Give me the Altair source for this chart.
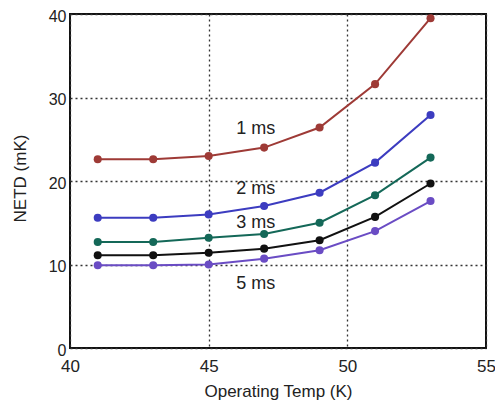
import altair as alt
import pandas as pd

temps = [41, 43, 45, 47, 49, 51, 53]
ms1 = [22.6, 22.6, 23.0, 24.0, 26.4, 31.6, 39.5]
ms2 = [15.6, 15.6, 16.0, 17.0, 18.6, 22.2, 27.9]
ms3 = [12.7, 12.7, 13.2, 13.65, 15.0, 18.3, 22.8]
ms4 = [11.1, 11.1, 11.4, 11.9, 12.9, 15.7, 19.7]
ms5 = [9.9, 9.9, 10.0, 10.7, 11.7, 14.0, 17.6]

series_names = ["1 ms", "2 ms", "3 ms", "4 ms", "5 ms"]
series_vals = [ms1, ms2, ms3, ms4, ms5]
colors = ["#9e3a36", "#3c3cc0", "#146858", "#111111", "#6a4cc4"]

label_text = ["1 ms", "2 ms", "3 ms", "5 ms"]
label_x = [46.7, 46.7, 46.7, 46.7]
label_y = [26.2, 19.0, 15.0, 7.7]

rows = []
for name, vals in zip(series_names, series_vals):
    for t, v in zip(temps, vals):
        rows.append({"temp": t, "netd": v, "series": name})
df = pd.DataFrame(rows)
labels_df = pd.DataFrame({"x": label_x, "y": label_y, "text": label_text})

FONT = "Liberation Sans"

x_enc = alt.X("temp:Q", scale=alt.Scale(domain=[40, 55], nice=False, zero=False),
              axis=alt.Axis(values=[40, 45, 50, 55], title="Operating Temp (K)",
                            ticks=False, labelPadding=10, labelFontSize=17,
                            labelColor="#222", titleFontSize=17, titleFontWeight="normal",
                            titleColor="#222", titleY=43, titleBaseline="middle",
                            grid=True, gridDash=[2, 3], gridColor="#333",
                            gridWidth=1.3, domain=False, labelFlush=False))
y_enc = alt.Y("netd:Q", scale=alt.Scale(domain=[0, 40], nice=False),
              axis=alt.Axis(values=[0, 10, 20, 30, 40], title="NETD (mK)",
                            ticks=False, labelPadding=4, labelFontSize=16, labelOffset=2,
                            labelColor="#222", titleFontSize=17, titleFontWeight="normal",
                            titleColor="#222", titleAngle=270, titleX=-50, titleY=164,
                            titleBaseline="middle", grid=True, gridDash=[2, 3],
                            gridColor="#333", gridWidth=1.3, domain=False))

lines = alt.Chart(df).mark_line(strokeWidth=2, point=alt.OverlayMarkDef(filled=True, size=65, opacity=1)).encode(
    x=x_enc,
    y=y_enc,
    color=alt.Color("series:N", scale=alt.Scale(domain=series_names, range=colors), legend=None),
)

texts = alt.Chart(labels_df).mark_text(fontSize=18, font=FONT, color="#222", align="center", baseline="middle").encode(
    x=alt.X("x:Q"),
    y=alt.Y("y:Q"),
    text="text:N",
)

chart = alt.layer(lines, texts).properties(
    width=416, height=334,
    autosize=alt.AutoSizeParams(type="none"),
    padding={"left": 62, "top": 6, "right": 9, "bottom": 54},
).configure(font=FONT).configure_view(stroke="#111", strokeWidth=2)

chart.save("out.html", embed_options={"renderer": "svg", "actions": False})
